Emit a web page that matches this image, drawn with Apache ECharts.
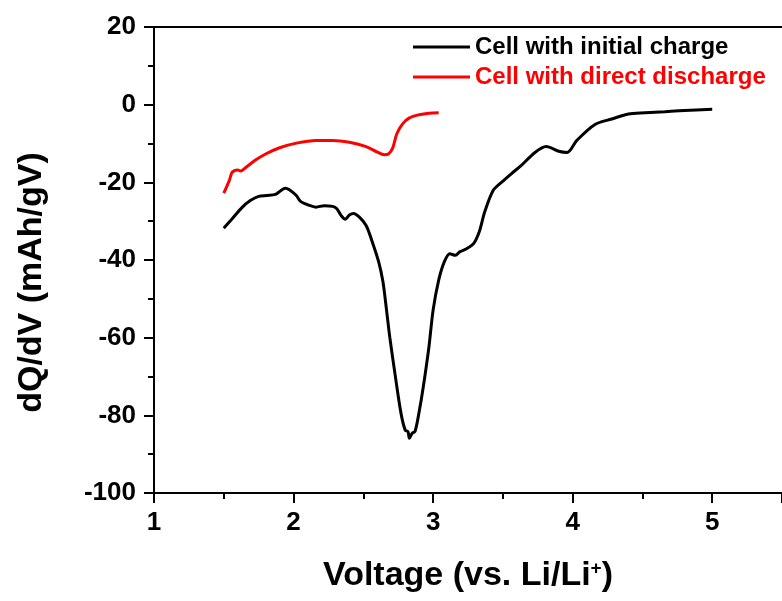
<!DOCTYPE html>
<html>
<head>
<meta charset="utf-8">
<script src="https://cdn.jsdelivr.net/npm/echarts@6/dist/echarts.min.js"></script>
<style>
  html, body { margin: 0; padding: 0; background: #fff; }
  #chart { width: 782px; height: 601px; }
</style>
</head>
<body>
<div id="chart"></div>
<script>
// dQ/dV curves, voltage in V vs. Li/Li+
const chargeV = [1.50, 1.56, 1.63, 1.69, 1.75, 1.81, 1.87, 1.91, 1.94, 1.97, 2.02, 2.05, 2.11, 2.16, 2.22, 2.28, 2.31, 2.34, 2.37, 2.40, 2.43, 2.47, 2.52, 2.56, 2.61, 2.64, 2.66, 2.69, 2.73, 2.77, 2.80, 2.82, 2.83, 2.85, 2.87, 2.90, 2.93, 2.97, 3.00, 3.04, 3.08, 3.12, 3.16, 3.19, 3.24, 3.29, 3.33, 3.37, 3.43, 3.49, 3.56, 3.63, 3.73, 3.81, 3.90, 3.96, 4.03, 4.16, 4.28, 4.40, 4.52, 4.66, 4.80, 5.00];
const chargeDQ = [-31.8, -29.4, -26.5, -24.7, -23.6, -23.4, -23.1, -22.1, -21.5, -21.9, -23.4, -24.9, -25.9, -26.4, -26.0, -26.2, -26.8, -28.5, -29.5, -28.4, -28.0, -28.9, -31.1, -34.9, -40.5, -45.5, -51.0, -60.0, -70.1, -79.5, -83.8, -84.2, -85.9, -84.6, -84.2, -79.1, -72.6, -62.4, -52.9, -45.2, -40.5, -38.4, -38.8, -37.9, -37.1, -35.8, -32.8, -27.6, -22.1, -20.0, -17.8, -15.7, -12.3, -10.8, -12.0, -12.3, -9.2, -5.1, -3.7, -2.4, -2.1, -1.8, -1.5, -1.2];

const dischargeV = [1.50, 1.54, 1.56, 1.60, 1.62, 1.66, 1.73, 1.80, 1.90, 2.02, 2.16, 2.28, 2.40, 2.52, 2.60, 2.65, 2.68, 2.71, 2.74, 2.78, 2.83, 2.90, 2.97, 3.04];
const dischargeDQ = [-22.8, -19.5, -17.4, -16.8, -17.1, -16.1, -14.2, -12.7, -11.1, -9.9, -9.2, -9.2, -9.7, -10.8, -12.2, -12.9, -12.7, -11.2, -7.5, -5.0, -3.4, -2.6, -2.2, -2.1];

const seriesNames = ['Cell with initial charge', 'Cell with direct discharge'];
const seriesColors = ['#000000', '#ff0000'];
const xTicks = { min: 1, max: 5.5, step: 1 };
const yTicks = { min: -100, max: 20, step: 20 };

const zip = (xs, ys) => xs.map((x, i) => [x, ys[i]]);

const FONT = "'Liberation Sans', Arial, sans-serif";

const chart = echarts.init(document.getElementById('chart'), null, { renderer: 'canvas' });

chart.setOption({
  animation: false,
  backgroundColor: '#fff',
  grid: { left: 154, top: 27, width: 630, height: 466, containLabel: false },
  legend: {
    left: 408,
    top: 30,
    orient: 'vertical',
    itemWidth: 57,
    itemHeight: 3,
    itemGap: 6,
    icon: 'rect',
    textStyle: { fontFamily: FONT, fontSize: 24, fontWeight: 'bold' },
    data: [
      { name: seriesNames[0], textStyle: { color: seriesColors[0] } },
      { name: seriesNames[1], textStyle: { color: seriesColors[1] } }
    ]
  },
  xAxis: [
    {
      type: 'value',
      min: xTicks.min,
      max: xTicks.max,
      interval: xTicks.step,
      position: 'bottom',
      name: 'Voltage (vs. Li/Li{sup|+})',
      nameLocation: 'middle',
      nameGap: 66,
      nameTextStyle: {
        fontFamily: FONT, fontSize: 34, fontWeight: 'bold', color: '#000',
        rich: {
          sup: { fontFamily: FONT, fontSize: 19, fontWeight: 'bold', color: '#000', verticalAlign: 'top' }
        }
      },
      axisLine: { show: true, onZero: false, lineStyle: { color: '#000', width: 2 } },
      axisTick: { show: true, length: 10, lineStyle: { color: '#000', width: 2 } },
      minorTick: { show: true, splitNumber: 2, length: 6, lineStyle: { color: '#000', width: 2 } },
      axisLabel: {
        margin: 17, color: '#000', fontFamily: FONT, fontSize: 26, fontWeight: 'bold',
        showMaxLabel: false
      },
      splitLine: { show: false }
    },
    {
      type: 'value',
      min: xTicks.min,
      max: xTicks.max,
      position: 'top',
      axisLine: { show: true, onZero: false, lineStyle: { color: '#000', width: 2 } },
      axisTick: { show: false },
      axisLabel: { show: false },
      splitLine: { show: false }
    }
  ],
  yAxis: {
    type: 'value',
    min: yTicks.min,
    max: yTicks.max,
    interval: yTicks.step,
    name: 'dQ/dV (mAh/gV)',
    nameLocation: 'middle',
    nameGap: 105,
    nameTextStyle: {
      fontFamily: FONT, fontSize: 34, fontWeight: 'bold', color: '#000',
      padding: [0, 45, 0, 0]
    },
    axisLine: { show: true, onZero: false, lineStyle: { color: '#000', width: 2 } },
    axisTick: { show: true, length: 10, lineStyle: { color: '#000', width: 2 } },
    minorTick: { show: true, splitNumber: 2, length: 6, lineStyle: { color: '#000', width: 2 } },
    axisLabel: { margin: 18, color: '#000', fontFamily: FONT, fontSize: 26, fontWeight: 'bold' },
    splitLine: { show: false }
  },
  series: [
    {
      name: seriesNames[0],
      type: 'line',
      data: zip(chargeV, chargeDQ),
      showSymbol: false,
      smooth: 0.3,
      color: seriesColors[0],
      lineStyle: { color: seriesColors[0], width: 3 }
    },
    {
      name: seriesNames[1],
      type: 'line',
      data: zip(dischargeV, dischargeDQ),
      showSymbol: false,
      smooth: 0.3,
      color: seriesColors[1],
      lineStyle: { color: seriesColors[1], width: 3 }
    }
  ]
});
</script>
</body>
</html>
